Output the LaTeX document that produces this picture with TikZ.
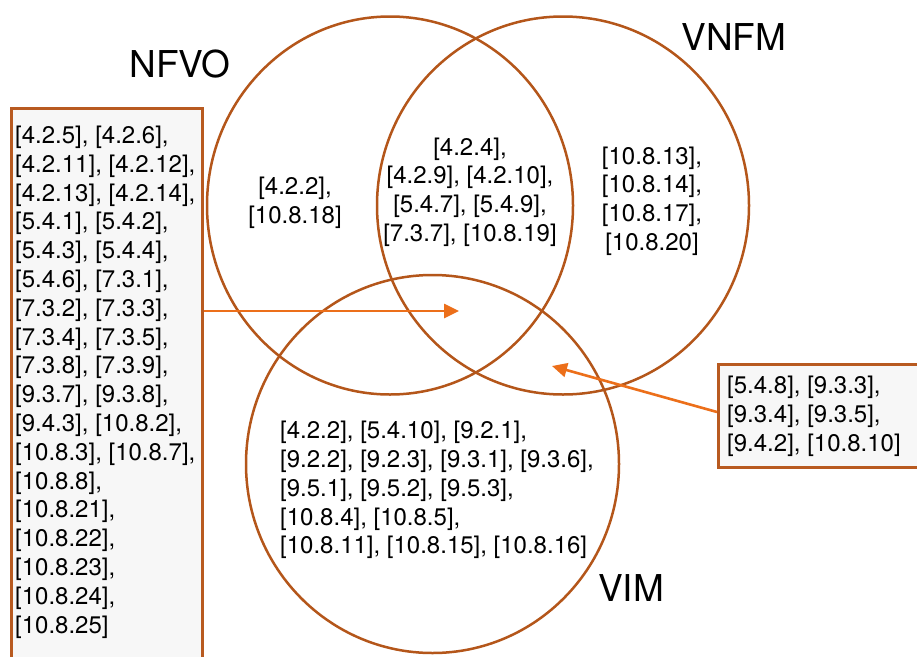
\documentclass[tikz,border=0pt]{standalone}
\usepackage{fontspec}
\setmainfont{TeX Gyre Heros}
\usetikzlibrary{arrows.meta,shapes.geometric}
\definecolor{ringc}{HTML}{B4561A}
\definecolor{boxc}{HTML}{B85A20}
\definecolor{arrc}{HTML}{EC6F1A}
\definecolor{boxfill}{HTML}{F7F7F7}
\tikzset{
  ring/.style={draw=ringc, line width=2.5pt, ellipse, minimum width=370pt, minimum height=378pt, inner sep=0pt},
  refbox/.style={draw=boxc, fill=boxfill, line width=2.6pt, rectangle, inner sep=0pt},
  reftext/.style={inner sep=0pt, font=\fontsize{24}{28.8}\selectfont},
  title/.style={inner sep=0pt, font=\fontsize{37}{40}\selectfont},
  pointer/.style={draw=arrc, line width=2.6pt, -{Triangle[length=15pt,width=14pt]}}
}
\begin{document}
\begin{tikzpicture}[x=1pt,y=-1pt]
\useasboundingbox (0,0) rectangle (917,656);
\clip (0,0) rectangle (917,656);
\fill[white] (0,0) rectangle (917,656);
% circles
\node[ring, minimum width=366pt] (nfvo) at (390,205.5) {};
\node[ring, minimum width=372pt] (vnfm) at (563,205.5) {};
\node[ring, minimum width=373pt] (vim) at (432.5,464) {};
% titles
\node[title] (tnfvo) at (180,64) {NFVO};
\node[title] (tvnfm) at (734,37) {VNFM};
\node[title] (tvim) at (631,588) {VIM};
% region texts
\node[reftext, align=center] (onlynfvo) at (295,203) {[4.2.2],\\{}[10.8.18]};
\node[reftext, align=center] (nfvovnfm) at (470,192) {[4.2.4],\\{}[4.2.9], [4.2.10],\\{}[5.4.7], [5.4.9],\\{}[7.3.7], [10.8.19]};
\node[reftext, align=center] (onlyvnfm) at (652,201) {[10.8.13],\\{}[10.8.14],\\{}[10.8.17],\\{}[10.8.20]};
\node[reftext, align=left, anchor=west] (onlyvim) at (280,490) {[4.2.2], [5.4.10], [9.2.1],\\{}[9.2.2], [9.2.3], [9.3.1], [9.3.6],\\{}[9.5.1], [9.5.2], [9.5.3],\\{}[10.8.4], [10.8.5],\\{}[10.8.11], [10.8.15], [10.8.16]};
% left box
\node[refbox, minimum width=191pt, minimum height=580pt, anchor=north west] (lbox) at (10,107) {};
\node[reftext, align=left, anchor=west] (ltext) at (15,382) {[4.2.5], [4.2.6],\\{}[4.2.11], [4.2.12],\\{}[4.2.13], [4.2.14],\\{}[5.4.1], [5.4.2],\\{}[5.4.3], [5.4.4],\\{}[5.4.6], [7.3.1],\\{}[7.3.2], [7.3.3],\\{}[7.3.4], [7.3.5],\\{}[7.3.8], [7.3.9],\\{}[9.3.7], [9.3.8],\\{}[9.4.3], [10.8.2],\\{}[10.8.3], [10.8.7],\\{}[10.8.8],\\{}[10.8.21],\\{}[10.8.22],\\{}[10.8.23],\\{}[10.8.24],\\{}[10.8.25]};
% right box
\node[refbox, minimum width=230pt, minimum height=103pt, anchor=north west] (rbox) at (717,363) {};
\node[reftext, align=left, anchor=west] (rtext) at (727,416) {[5.4.8], [9.3.3],\\{}[9.3.4], [9.3.5],\\{}[9.4.2], [10.8.10]};
% pointers
\coordinate (ltip) at (459,311);
\coordinate (rtip) at (552,366);
\coordinate (rstart) at (717,412);
\draw[pointer] (lbox.east |- ltip) -- (ltip);
\draw[pointer] (rstart) -- (rtip);
\end{tikzpicture}
\end{document}
